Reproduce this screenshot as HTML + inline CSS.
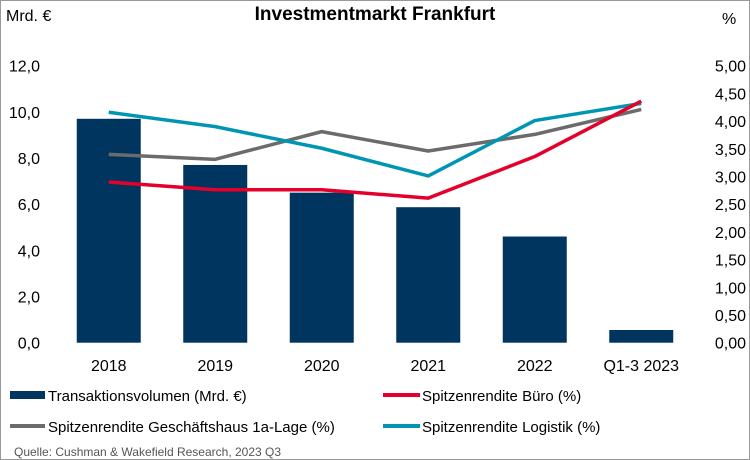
<!DOCTYPE html>
<html><head><meta charset="utf-8"><style>
body{margin:0;background:#fff}
svg{display:block;font-family:"Liberation Sans",Arial,sans-serif}
</style></head><body>
<svg id="chart" width="750" height="460" viewBox="0 0 750 460">
<rect x="0.5" y="0.5" width="749" height="459" fill="#fff" stroke="#999"/>
<text x="375" y="20" text-anchor="middle" font-size="19" font-weight="bold" fill="#000">Investmentmarkt Frankfurt</text>
<text x="6" y="21" font-size="16" fill="#000">Mrd. €</text>
<text x="722" y="24" font-size="16" fill="#000">%</text>
<g id="bars"></g><g id="lines"></g><g id="axes"></g>
<g>
<rect x="10" y="391" width="35" height="8" fill="#00355f"/>
<text x="48" y="401" font-size="15">Transaktionsvolumen (Mrd. €)</text>
<line x1="383" y1="395" x2="420" y2="395" stroke="#e4002b" stroke-width="4"/>
<text x="422" y="401" font-size="15">Spitzenrendite Büro (%)</text>
<line x1="10" y1="426" x2="45" y2="426" stroke="#6b6b6b" stroke-width="4"/>
<text x="48" y="432" font-size="15">Spitzenrendite Geschäftshaus 1a-Lage (%)</text>
<line x1="383" y1="426" x2="420" y2="426" stroke="#0095b3" stroke-width="4"/>
<text x="422" y="432" font-size="15">Spitzenrendite Logistik (%)</text>
</g>
<text x="14" y="456" font-size="12" fill="#555">Quelle: Cushman &amp; Wakefield Research, 2023 Q3</text>
</svg>
<script>
const categories = ["2018","2019","2020","2021","2022","Q1-3 2023"];
const volume = [9.7, 7.7, 6.5, 5.87, 4.6, 0.55];
const buero = [2.90, 2.76, 2.76, 2.61, 3.36, 4.36];
const geschaeftshaus = [3.40, 3.31, 3.81, 3.46, 3.76, 4.21];
const logistik = [4.16, 3.90, 3.51, 3.01, 4.01, 4.32];
const leftTicks = ["0,0","2,0","4,0","6,0","8,0","10,0","12,0"];
const rightTicks = ["0,00","0,50","1,00","1,50","2,00","2,50","3,00","3,50","4,00","4,50","5,00"];
const NS="http://www.w3.org/2000/svg";
const y0=342.7, y1=65.7;
const yL=v=>y0-(v/12)*(y0-y1);
const yR=v=>y0-(v/5)*(y0-y1);
const band=106.5, startX=55.5;
const xC=i=>startX+band*(i+0.5);
function mk(tag,attrs,parent){const e=document.createElementNS(NS,tag);for(const k in attrs)e.setAttribute(k,attrs[k]);document.getElementById(parent).appendChild(e);return e;}
volume.forEach((v,i)=>{
 const r=mk('rect',{x:xC(i)-32,y:yL(v),width:64,height:y0-yL(v),fill:'#00355f'},'bars');
 
 
});
[[geschaeftshaus,'#6b6b6b','line-geschaeftshaus'],[logistik,'#0095b3','line-logistik'],[buero,'#e4002b','line-buero']].forEach(([d,c,n])=>{
 const p=mk('polyline',{points:d.map((v,i)=>xC(i)+','+yR(v)).join(' '),fill:'none',stroke:c,'stroke-width':3.5,'stroke-linejoin':'round'},'lines');
 
 
});
leftTicks.forEach((t,i)=>{
 const e=mk('text',{x:40,y:yL(i*2)+6,'text-anchor':'end','font-size':16},'axes');e.textContent=t;
 
 
});
rightTicks.forEach((t,i)=>{
 const e=mk('text',{x:746,y:yR(i*0.5)+6,'text-anchor':'end','font-size':16},'axes');e.textContent=t;
 
 
});
categories.forEach((c,i)=>{
 const e=mk('text',{x:xC(i),y:371,'text-anchor':'middle','font-size':16},'axes');e.textContent=c;
 
 
});
</script>
</body></html>
